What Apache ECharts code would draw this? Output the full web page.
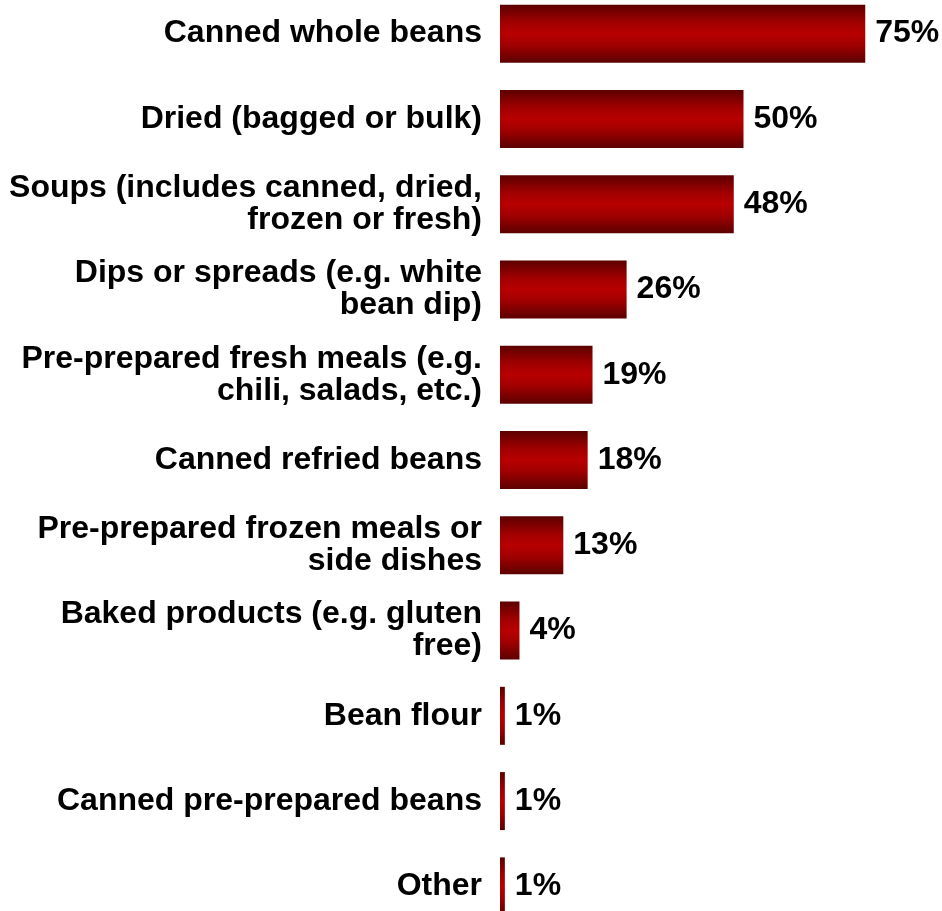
<!DOCTYPE html>
<html>
<head>
<meta charset="utf-8">
<script src="https://cdn.jsdelivr.net/npm/echarts@6/dist/echarts.min.js"></script>
<style>
  html, body { margin: 0; padding: 0; background: #fff; }
  #chart { width: 942px; height: 911px; }
</style>
</head>
<body>
<div id="chart"></div>
<script>
// Product forms, listed top to bottom
const categories = [
  'Canned whole beans',
  'Dried (bagged or bulk)',
  'Soups (includes canned, dried,\nfrozen or fresh)',
  'Dips or spreads (e.g. white\nbean dip)',
  'Pre-prepared fresh meals (e.g.\nchili, salads, etc.)',
  'Canned refried beans',
  'Pre-prepared frozen meals or\nside dishes',
  'Baked products (e.g. gluten\nfree)',
  'Bean flour',
  'Canned pre-prepared beans',
  'Other'
];
// Share of respondents (%)
const shares = [75, 50, 48, 26, 19, 18, 13, 4, 1, 1, 1];

const FONT = "'Liberation Sans', Arial, sans-serif";

const barFill = new echarts.graphic.LinearGradient(0, 0, 0, 1, [
  { offset: 0, color: '#5c0000' },
  { offset: 0.3, color: '#a00000' },
  { offset: 0.5, color: '#b80000' },
  { offset: 0.7, color: '#a00000' },
  { offset: 1, color: '#5c0000' }
]);

const chart = echarts.init(document.getElementById('chart'), null, { renderer: 'canvas' });
chart.setOption({
  animation: false,
  grid: {
    left: 500, top: -9, width: 487, height: 938,
    containLabel: false,
    outerBoundsMode: 'none'
  },
  xAxis: {
    type: 'value', min: 0, max: 100, show: false
  },
  yAxis: {
    type: 'category',
    data: categories,
    inverse: true,
    axisLine: { show: false },
    axisTick: { show: false },
    axisLabel: {
      margin: 18,
      color: '#000',
      fontFamily: FONT,
      fontWeight: 'bold',
      fontSize: 32,
      lineHeight: 32,
      padding: [0, 0, 6, 0],
      align: 'right'
    }
  },
  series: [{
    type: 'bar',
    data: shares,
    barCategoryGap: '32%',
    itemStyle: { color: barFill },
    label: {
      show: true,
      position: 'right',
      distance: 10,
      formatter: '{c}%',
      color: '#000',
      fontFamily: FONT,
      fontWeight: 'bold',
      fontSize: 32
    }
  }]
});
</script>
</body>
</html>
